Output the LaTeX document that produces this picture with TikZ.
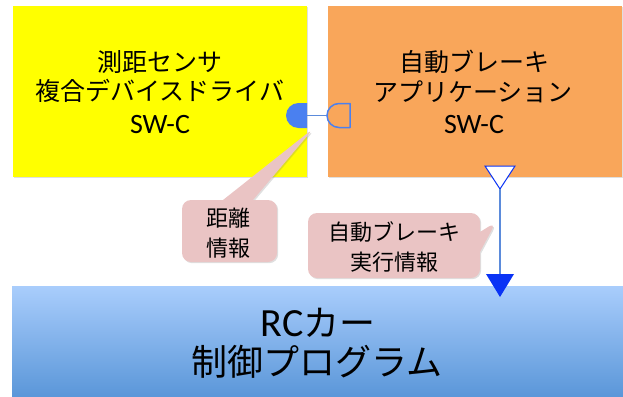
\documentclass[tikz,border=0pt]{standalone}
\usepackage{fontspec}
\setmainfont{Carlito}
\newfontfamily\jp{Noto Sans CJK JP}
\usetikzlibrary{shapes.callouts,shadows}
\definecolor{boxyellow}{HTML}{FFFF00}
\definecolor{boxorange}{HTML}{F9A65A}
\definecolor{calloutpink}{HTML}{EAC4C4}
\definecolor{bluetop}{HTML}{A9CDFC}
\definecolor{bluebottom}{HTML}{5B97D9}
\definecolor{portblue}{HTML}{4A80F0}
\definecolor{linkblue}{HTML}{5B8BDB}
\definecolor{tipblue}{HTML}{0A33F5}
\tikzset{
  swcbox/.style={draw=none, minimum width=#1, inner sep=0pt,
    drop shadow={opacity=0.25, shadow xshift=1.2pt, shadow yshift=-1.2pt}},
  jptext/.style={anchor=base, inner sep=0pt, font=\jp\fontsize{25}{30}\selectfont},
  swctext/.style={anchor=base, inner sep=0pt, font=\rmfamily\fontsize{28}{30}\selectfont},
  smalljp/.style={anchor=base, inner sep=0pt, font=\jp\fontsize{22}{26}\selectfont},
  bigjp/.style={anchor=base, inner sep=0pt, font=\jp\fontsize{36}{40}\selectfont},
  infocallout/.style={rectangle callout, fill=calloutpink, rounded corners=9pt, inner sep=0pt,
    drop shadow={opacity=0.25, shadow xshift=1.2pt, shadow yshift=-1.2pt}},
}
\begin{document}
\begin{tikzpicture}[x=1pt,y=-1pt]
\useasboundingbox (0,0) rectangle (623,396);
% boxes
\node[swcbox=294pt, minimum height=171pt, fill=boxyellow] (sensor) at (160,91.5) {};
\node[swcbox=294pt, minimum height=171pt, fill=boxorange] (brake) at (474.5,91.5) {};
\node[swcbox=611pt, minimum height=110pt, top color=bluetop, bottom color=bluebottom] (rc) at (317.5,341) {};
% texts
\node[jptext] (sensorA) at (160,71.5) {測距センサ};
\node[jptext] (sensorB) at (160,100.5) {複合デバイスドライバ};
\node[swctext] (sensorC) at (160,133) {SW-C};
\node[jptext] (brakeA) at (474,71) {自動ブレーキ};
\node[jptext] (brakeB) at (473,101.5) {アプリケーション};
\node[swctext] (brakeC) at (474,133) {SW-C};
\node[bigjp] (rcA) at (318,336) {{\rmfamily\fontsize{40}{40}\selectfont RC}カー};
\node[bigjp] (rcB) at (317,375.5) {制御プログラム};
% ports
\coordinate (portA) at (307,115.5);
\coordinate (portB) at (327,115.5);
\fill[portblue] (307,103) -- (298.5,103) arc[start angle=270, end angle=90, radius=12.5] -- (307,128) -- cycle;
\draw[portblue, line width=1.5pt, line join=round] (350,103.5) -- (339,103.5) arc[start angle=270, end angle=90, radius=12] -- (350,127.5) -- cycle;
\draw[linkblue, line width=1.3pt] (portA) -- (portB);
% callouts
\coordinate (tipA) at (314,128);
\coordinate (tipB) at (496,222);
\node[infocallout, minimum width=95pt, minimum height=62pt, callout absolute pointer={(tipA)}, callout pointer width=30pt] (dist) at (229.5,231) {};
\node[smalljp] (distA) at (228.5,226.4) {距離};
\node[smalljp] (distB) at (228.5,256.4) {情報};
\node[infocallout, minimum width=172pt, minimum height=65pt, callout absolute pointer={(tipB)}, callout pointer width=20pt] (exec) at (394,245.5) {};
\node[smalljp] (execA) at (394,240.4) {自動ブレーキ};
\node[smalljp] (execB) at (394,270.4) {実行情報};
% flow connector
\coordinate (outA) at (500,189);
\coordinate (inB) at (500,274);
\draw[tipblue, line width=1pt, fill=white, line join=miter] (485,166) -- (515,166) -- (outA) -- cycle;
\draw[linkblue, line width=1.3pt] (outA) -- (inB);
\fill[tipblue] (486,274) -- (514,274) -- (500,297) -- cycle;
\end{tikzpicture}
\end{document}
